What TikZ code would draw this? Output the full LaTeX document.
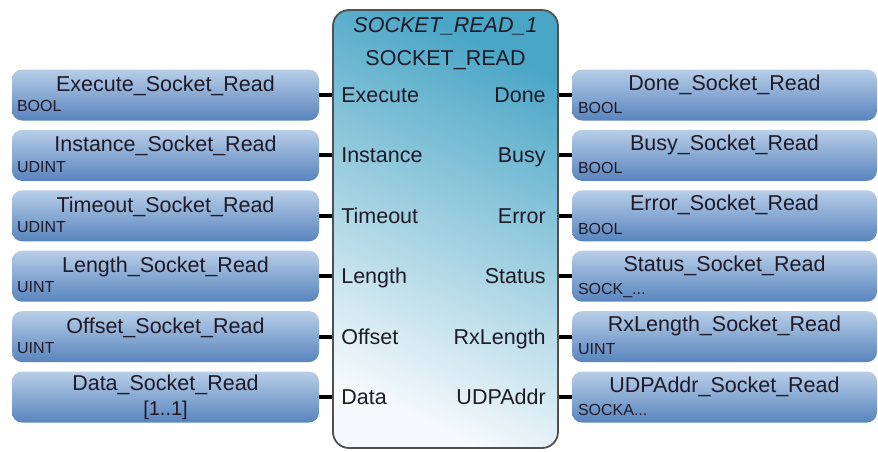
\documentclass[tikz,border=0pt]{standalone}
\usepackage{fontspec}
\setmainfont{Liberation Sans}
\usetikzlibrary{positioning}
\definecolor{fbtop}{HTML}{4AA6C6}
\definecolor{fbmid}{HTML}{A4D3E3}
\definecolor{fbbot}{HTML}{F6FAFC}
\definecolor{vartop}{HTML}{B8CEE8}
\definecolor{varbot}{HTML}{5884BD}
\definecolor{fbline}{HTML}{505050}
\definecolor{txt}{HTML}{1E1A28}

\begin{document}
\begin{tikzpicture}[x=1pt, y=1pt,
    fblock/.style={draw=fbline, line width=1.8pt, rounded corners=16pt, top color=fbtop, middle color=fbmid, bottom color=fbbot, shading angle=-25, minimum width=225pt, minimum height=438pt, inner sep=0pt},
    invar/.style={rounded corners=10pt, top color=vartop, bottom color=varbot, minimum width=307pt, minimum height=51pt, inner sep=0pt, font=\fontsize{21.5}{24}\selectfont, text=txt, text height=10pt, text depth=17pt},
    outvar/.style={invar, minimum width=305pt, text height=8pt, text depth=18pt},
    vtype/.style={font=\fontsize{16}{18}\selectfont, text=txt, inner sep=0pt},
    intype/.style={label={[vtype, anchor=base west, xshift=5pt, yshift=9pt]south west:#1}},
    outtype/.style={label={[vtype, anchor=base west, xshift=6pt, yshift=7.5pt]south west:#1}},
    pinl/.style={font=\fontsize{21.5}{24}\selectfont, text=txt, inner sep=0pt, anchor=base west, xshift=9pt, yshift=-7.5pt},
    pinr/.style={font=\fontsize{21.5}{24}\selectfont, text=txt, inner sep=0pt, anchor=base east, xshift=-13pt, yshift=-7.5pt},
    wire/.style={line width=4pt, black}
  ]
    \useasboundingbox (0,0) rectangle (878,-451);

    \node[fblock] (fb) at (445.5,-229) {};
    \node[font=\itshape\fontsize{21.5}{24}\selectfont, text=txt, anchor=base] (fbinst) at ([yshift=-23pt]fb.north) {SOCKET\_READ\_1};
    \node[font=\fontsize{21.5}{24}\selectfont, text=txt, anchor=base] (fbtype) at ([yshift=-56.5pt]fb.north) {SOCKET\_READ};

    % inputs
    \node[invar, intype=BOOL] (inExecute) at (165.5,-95) {Execute\_Socket\_Read};
    \node[invar, intype=UDINT, below=9pt of inExecute] (inInstance) {Instance\_Socket\_Read};
    \node[invar, intype=UDINT, below=9pt of inInstance] (inTimeout) {Timeout\_Socket\_Read};
    \node[invar, intype=UINT, below=9pt of inTimeout] (inLength) {Length\_Socket\_Read};
    \node[invar, intype=UINT, below=9pt of inLength] (inOffset) {Offset\_Socket\_Read};
    \node[invar, text height=8pt, text depth=22pt, below=9pt of inOffset,
      label={[vtype, font=\fontsize{20}{22}\selectfont, anchor=base, yshift=7.5pt]south:{[1..1]}}] (inData) {Data\_Socket\_Read};

    % outputs
    \node[outvar, outtype=BOOL] (outDone) at (724.5,-95) {Done\_Socket\_Read};
    \node[outvar, outtype=BOOL, below=9pt of outDone] (outBusy) {Busy\_Socket\_Read};
    \node[outvar, outtype=BOOL, below=9pt of outBusy] (outError) {Error\_Socket\_Read};
    \node[outvar, outtype=SOCK\_..., below=9pt of outError] (outStatus) {Status\_Socket\_Read};
    \node[outvar, outtype=UINT, below=9pt of outStatus] (outRxLength) {RxLength\_Socket\_Read};
    \node[outvar, outtype=SOCKA..., below=9pt of outRxLength] (outUDPAddr) {UDPAddr\_Socket\_Read};

    % pin names
    \node[pinl] (pExecute) at (fb.west |- inExecute) {Execute};
    \node[pinl] (pInstance) at (fb.west |- inInstance) {Instance};
    \node[pinl] (pTimeout) at (fb.west |- inTimeout) {Timeout};
    \node[pinl] (pLength) at (fb.west |- inLength) {Length};
    \node[pinl] (pOffset) at (fb.west |- inOffset) {Offset};
    \node[pinl] (pData) at (fb.west |- inData) {Data};
    \node[pinr] (pDone) at (fb.east |- outDone) {Done};
    \node[pinr] (pBusy) at (fb.east |- outBusy) {Busy};
    \node[pinr] (pError) at (fb.east |- outError) {Error};
    \node[pinr] (pStatus) at (fb.east |- outStatus) {Status};
    \node[pinr] (pRxLength) at (fb.east |- outRxLength) {RxLength};
    \node[pinr] (pUDPAddr) at (fb.east |- outUDPAddr) {UDPAddr};

    % wires
    \draw[wire] (inExecute) -- (fb.west |- inExecute);
    \draw[wire] (inInstance) -- (fb.west |- inInstance);
    \draw[wire] (inTimeout) -- (fb.west |- inTimeout);
    \draw[wire] (inLength) -- (fb.west |- inLength);
    \draw[wire] (inOffset) -- (fb.west |- inOffset);
    \draw[wire] (inData) -- (fb.west |- inData);
    \draw[wire] (fb.east |- outDone) -- (outDone);
    \draw[wire] (fb.east |- outBusy) -- (outBusy);
    \draw[wire] (fb.east |- outError) -- (outError);
    \draw[wire] (fb.east |- outStatus) -- (outStatus);
    \draw[wire] (fb.east |- outRxLength) -- (outRxLength);
    \draw[wire] (fb.east |- outUDPAddr) -- (outUDPAddr);

  \end{tikzpicture}
\end{document}
